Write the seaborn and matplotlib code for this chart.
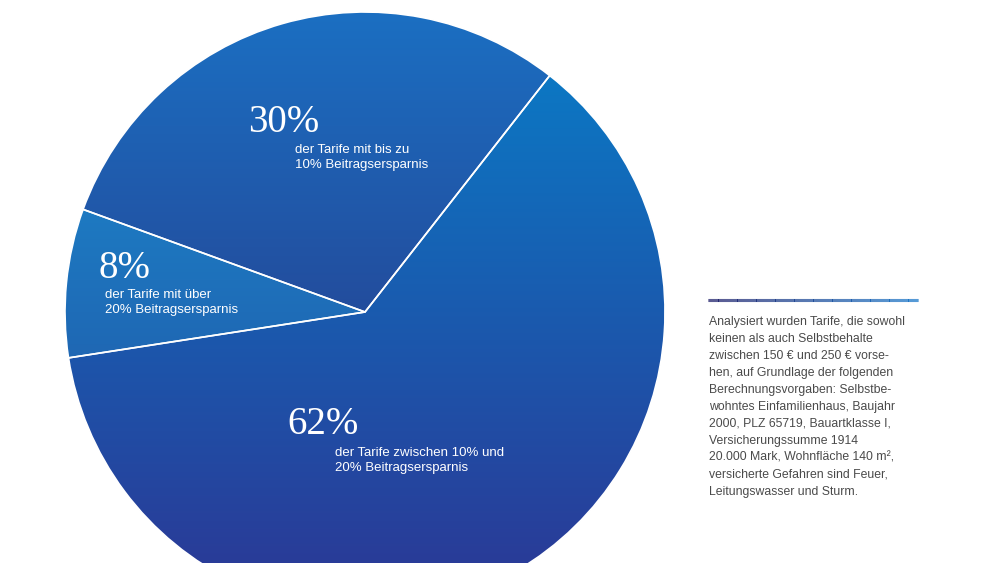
import numpy as np
import matplotlib
matplotlib.use("Agg")
import matplotlib.pyplot as plt
from matplotlib.colors import LinearSegmentedColormap
import seaborn as sns

sns.set_theme(style="white")

shares = [30, 8, 62]
labels = ["30%", "8%", "62%"]
subtexts = ["der Tarife mit bis zu\n10% Beitragsersparnis",
            "der Tarife mit über\n20% Beitragsersparnis",
            "der Tarife zwischen 10% und\n20% Beitragsersparnis"]
gradients = [("#1b6fc2", "#2b2a78"), ("#1a92d4", "#23489c"), ("#087fc9", "#2c3694")]
note = ("Analysiert wurden Tarife, die sowohl\nkeinen als auch Selbstbehalte\n"
        "zwischen 150 € und 250 € vorse-\nhen, auf Grundlage der folgenden\n"
        "Berechnungsvorgaben: Selbstbe-\nwohntes Einfamilienhaus, Baujahr\n"
        "2000, PLZ 65719, Bauartklasse I,\nVersicherungssumme 1914\n"
        "20.000 Mark, Wohnfläche 140 m²,\nversicherte Gefahren sind Feuer,\n"
        "Leitungswasser und Sturm.")

H = 563
fig = plt.figure(figsize=(10, 5.63), dpi=100)
ax = fig.add_axes([0, 0, 1, 1])
cx, cy, r = 365, H - 312, 300
wedges, _ = ax.pie(shares, center=(cx, cy), radius=r, startangle=52,
                   frame=True, wedgeprops=dict(edgecolor="white", linewidth=1.2))
grad = np.linspace(0, 1, 256).reshape(-1, 1)
for w, (top, bot) in zip(wedges, gradients):
    cmap = LinearSegmentedColormap.from_list("g", [top, bot])
    im = ax.imshow(grad, cmap=cmap, aspect="auto", origin="upper",
                   extent=[cx - r, cx + r, cy - r, cy + r], zorder=1)
    im.set_clip_path(w)
    w.set_facecolor("none")
    w.set_zorder(2)
ax.set_xlim(0, 1000)
ax.set_ylim(0, H)
ax.set_aspect("auto")
ax.axis("off")

pos = [(248, 123, 295, 150), (98, 268, 105, 295), (287, 425, 335, 453)]
for lab, sub, (lx, ly, sx, sy) in zip(labels, subtexts, pos):
    ax.text(lx, H - ly, lab, family="Liberation Serif", fontsize=28, color="white",
            va="center", ha="left", zorder=3)
    ax.text(sx, H - sy + 6, sub, family="Liberation Sans", fontsize=9.5, color="white",
            va="top", ha="left", linespacing=1.35, zorder=3)

# gradient rule
lx = np.linspace(708, 918, 200)
cm = LinearSegmentedColormap.from_list("l", ["#24256e", "#1f7ccc"])
for i in range(len(lx) - 1):
    ax.plot(lx[i:i + 2], [H - 300] * 2, color=cm(i / len(lx)), lw=2.2, solid_capstyle="butt")
ax.text(709, H - 316, note, family="Liberation Sans", fontsize=8.8, color="#4a4a4a",
        va="top", ha="left", linespacing=1.55)

fig.savefig("out.png", dpi=100)
